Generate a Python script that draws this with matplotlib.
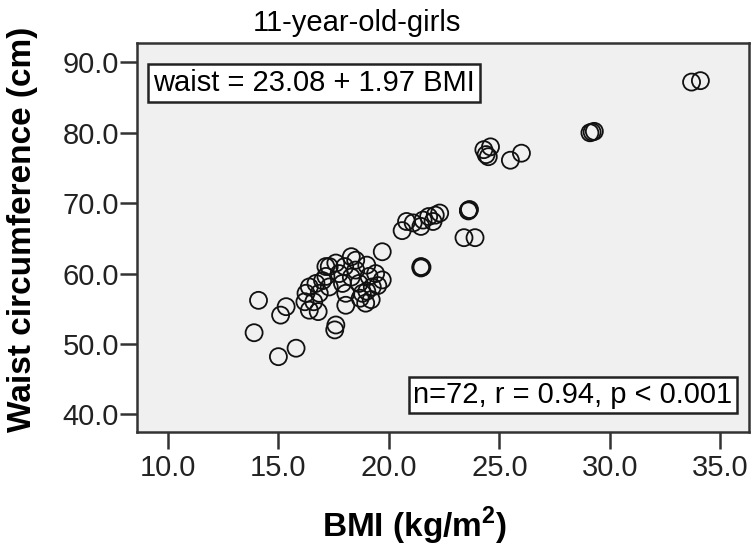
import matplotlib
matplotlib.use("Agg")
import matplotlib.pyplot as plt
from matplotlib.patches import Rectangle

plt.rcParams['font.family'] = ['Liberation Sans', 'DejaVu Sans']
plt.rcParams['mathtext.fontset'] = 'custom'
plt.rcParams['mathtext.rm'] = 'Liberation Sans'
plt.rcParams['mathtext.bf'] = 'Liberation Sans:bold'

# BMI (kg/m2) and waist circumference (cm)
bmi = [33.7, 34.1,
       29.1, 29.3, 29.2,
       24.3, 24.6, 24.4, 24.5, 26.0, 25.5,
       23.6, 23.65, 23.6,
       23.4, 23.9,
       21.45, 21.5, 21.45,
       20.6, 20.8, 21.1, 21.45, 21.55, 21.8, 22.1, 22.3, 22.0,
       19.7,
       14.1, 13.9, 15.0, 15.8,
       15.1, 15.35, 16.2, 16.4, 16.4, 16.8,
       17.6, 17.55, 18.05,
       17.15, 17.6, 18.3,
       17.15, 17.3, 17.75, 17.9, 18.05, 18.5, 18.65, 18.8, 18.95, 19.1,
       19.25, 19.4, 19.7, 19.2, 16.25, 16.7, 16.85, 18.5, 17.3,
       18.3, 18.0, 19.0, 19.5, 18.7, 17.0, 16.6, 19.0]
waist = [87.2, 87.4,
         80.0, 80.2, 80.1,
         77.6, 78.0, 76.9, 76.6, 77.1, 76.1,
         69.0, 69.1, 68.9,
         65.1, 65.1,
         61.0, 60.9, 60.8,
         66.1, 67.4, 67.2, 66.7, 67.6, 68.1, 68.3, 68.6, 67.4,
         63.1,
         56.2, 51.6, 48.2, 49.4,
         54.1, 55.3, 56.0, 58.1, 54.8, 54.6,
         52.7, 52.0, 55.5,
         61.0, 61.5, 62.4,
         59.6, 58.1, 60.0, 58.6, 57.2, 60.5, 58.6, 57.2, 55.8, 59.6,
         58.1, 60.0, 59.1, 56.3, 57.2, 58.6, 57.2, 61.9, 61.0,
         59.5, 61.0, 61.2, 58.3, 56.5, 59.0, 56.0, 57.5]

xticks = [10.0, 15.0, 20.0, 25.0, 30.0, 35.0]
yticks = [40.0, 50.0, 60.0, 70.0, 80.0, 90.0]

fig = plt.figure(figsize=(7.52, 5.49), dpi=100)
ax = fig.add_axes([137 / 752, 1 - 432 / 549, (749 - 137) / 752, (432 - 43) / 549])
ax.set_facecolor('#f0f0f0')

ax.scatter(bmi, waist, s=150, facecolors='none', edgecolors='#111111', linewidths=1.3, zorder=3)

ax.set_xlim(8.6, 36.3)
ax.set_ylim(37.5, 92.75)
ax.set_xticks(xticks)
ax.set_yticks(yticks)
ax.set_xticklabels(['%.1f' % t for t in xticks])
ax.set_yticklabels(['%.1f' % t for t in yticks])
ax.tick_params(direction='out', length=12, width=1.8, colors='#333333', labelsize=21)
ax.tick_params(axis='x', pad=4, labelcolor='#222222')
ax.tick_params(axis='y', pad=1, labelcolor='#222222')
for sp in ax.spines.values():
    sp.set_color('#333333')
    sp.set_linewidth(1.8)

fig.text(23 / 752, 1 - 229 / 549, 'Waist circumference (cm)', fontsize=24, fontweight='bold',
         rotation=90, ha='center', va='center')
fig.text(415 / 752, 1 - 526 / 549, 'BMI (kg/m$^\\mathbf{2}$)', fontsize=24, fontweight='bold',
         ha='center', va='center')
fig.text(357 / 752, 1 - 23 / 549, '11-year-old-girls', fontsize=21, ha='center', va='center')

# annotation boxes
ax.add_patch(Rectangle((0.018, 0.848), 0.5425, 0.0977, transform=ax.transAxes,
                       facecolor='white', edgecolor='#222222', linewidth=1.8, zorder=4))
ax.text(0.018 + 0.5425 / 2, 0.848 + 0.0977 / 2, 'waist = 23.08 + 1.97 BMI', transform=ax.transAxes,
        fontsize=21, ha='center', va='center', zorder=5)
ax.add_patch(Rectangle((0.444, 0.0488), 0.536, 0.0925, transform=ax.transAxes,
                       facecolor='white', edgecolor='#222222', linewidth=1.8, zorder=4))
ax.text(0.444 + 0.536 / 2, 0.0488 + 0.0925 / 2, 'n=72, r = 0.94, p < 0.001', transform=ax.transAxes,
        fontsize=21, ha='center', va='center', zorder=5)

fig.savefig('out.png', dpi=100)
